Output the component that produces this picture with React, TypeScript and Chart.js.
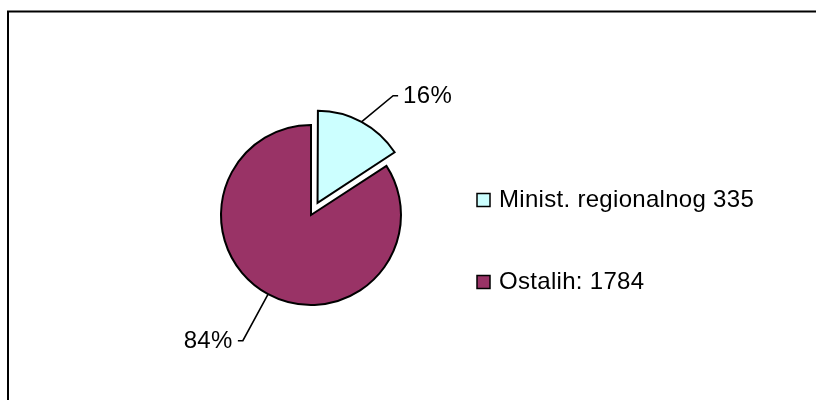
import { useEffect, useRef } from 'react';
import { Chart, registerables } from 'chart.js';

Chart.register(...registerables);

const categories = ['Minist. regionalnog', 'Ostalih:'];
const values = [335, 1784];
const colors = ['#CCFFFF', '#993366'];
const explode = [55, 0];

const FONT = '24px "Liberation Sans", Arial, sans-serif';

export default function App() {
  const ref = useRef<HTMLCanvasElement>(null);

  useEffect(() => {
    document.body.style.margin = '0';
    const total = values.reduce((a, b) => a + b, 0);

    const framePlugin = {
      id: 'frame',
      beforeDraw(chart: any) {
        const ctx = chart.ctx;
        ctx.save();
        ctx.fillStyle = '#ffffff';
        ctx.fillRect(0, 0, chart.width, chart.height);
        ctx.strokeStyle = '#000000';
        ctx.lineWidth = 2;
        ctx.strokeRect(8, 11.5, chart.width + 20, chart.height + 20);
        ctx.restore();
      },
    };

    const leaders = [
      { len: 41, tilt: 22 },
      { len: 53, tilt: 0 },
    ];

    const labelPlugin = {
      id: 'pctLabels',
      afterDatasetsDraw(chart: any) {
        const ctx = chart.ctx;
        const meta = chart.getDatasetMeta(0);
        ctx.save();
        ctx.font = FONT;
        (ctx as any).letterSpacing = '0.4px';
        ctx.fillStyle = '#000';
        ctx.strokeStyle = '#000';
        ctx.lineWidth = 1.6;
        ctx.textBaseline = 'middle';
        meta.data.forEach((arc: any, i: number) => {
          const p = arc.getProps(['x', 'y', 'startAngle', 'endAngle', 'outerRadius', 'circumference'], true);
          const off = (arc.options.offset || 0) / 4;
          const fix = 1 - Math.sin(Math.min(Math.PI, p.circumference || 0));
          const shift = off + off * fix;
          const mid = (p.startAngle + p.endAngle) / 2;
          const cx = p.x + Math.cos(mid) * shift;
          const cy = p.y + Math.sin(mid) * shift;
          const ax = cx + Math.cos(mid) * p.outerRadius;
          const ay = cy + Math.sin(mid) * p.outerRadius;
          const L = leaders[i];
          const side = Math.cos(mid) >= 0 ? 1 : -1;
          const dirA = mid + (side > 0 ? 1 : -1) * (L.tilt * Math.PI / 180) * (Math.sin(mid) < 0 ? 1 : -1);
          const ex = ax + Math.cos(dirA) * L.len;
          const ey = ay + Math.sin(dirA) * L.len;
          const hx = ex + side * 5;
          ctx.beginPath();
          ctx.moveTo(ax, ay);
          ctx.lineTo(ex, ey);
          ctx.lineTo(hx, ey);
          ctx.stroke();
          const pct = Math.round((values[i] / total) * 100) + '%';
          ctx.textAlign = side > 0 ? 'left' : 'right';
          ctx.fillText(pct, hx + side * 5, ey + 1);
        });
        ctx.restore();
      },
    };

    const legendPlugin = {
      id: 'sideLegend',
      afterDraw(chart: any) {
        const ctx = chart.ctx;
        const area = chart.chartArea;
        const x = area.right + 67;
        const y0 = area.top + 84;
        const gap = 82;
        ctx.save();
        ctx.font = FONT;
        (ctx as any).letterSpacing = '0.3px';
        ctx.textBaseline = 'middle';
        ctx.textAlign = 'left';
        categories.forEach((c, i) => {
          const y = y0 + i * gap;
          ctx.fillStyle = colors[i];
          ctx.fillRect(x, y - 6.5, 13, 13);
          ctx.strokeStyle = '#000';
          ctx.lineWidth = 1.5;
          ctx.strokeRect(x, y - 6.5, 13, 13);
          ctx.fillStyle = '#000';
          ctx.fillText(c + ' ' + values[i], x + 22, y);
        });
        ctx.restore();
      },
    };

    const chart = new Chart(ref.current as HTMLCanvasElement, {
      type: 'pie',
      data: {
        labels: categories,
        datasets: [
          {
            data: values,
            backgroundColor: colors,
            borderColor: '#000000',
            borderWidth: 2,
            borderJoinStyle: 'miter',
            offset: explode,
          } as any,
        ],
      },
      options: {
        animation: false,
        responsive: false,
        events: [],
        radius: 90,
        layout: { padding: { left: 212, right: 406, top: 116, bottom: 86 } },
        plugins: {
          legend: { display: false },
          tooltip: { enabled: false },
          title: { display: false },
        },
      } as any,
      plugins: [framePlugin, labelPlugin, legendPlugin],
    });
    return () => chart.destroy();
  }, []);

  return <canvas ref={ref} width={816} height={400} style={{ display: 'block' }} />;
}
